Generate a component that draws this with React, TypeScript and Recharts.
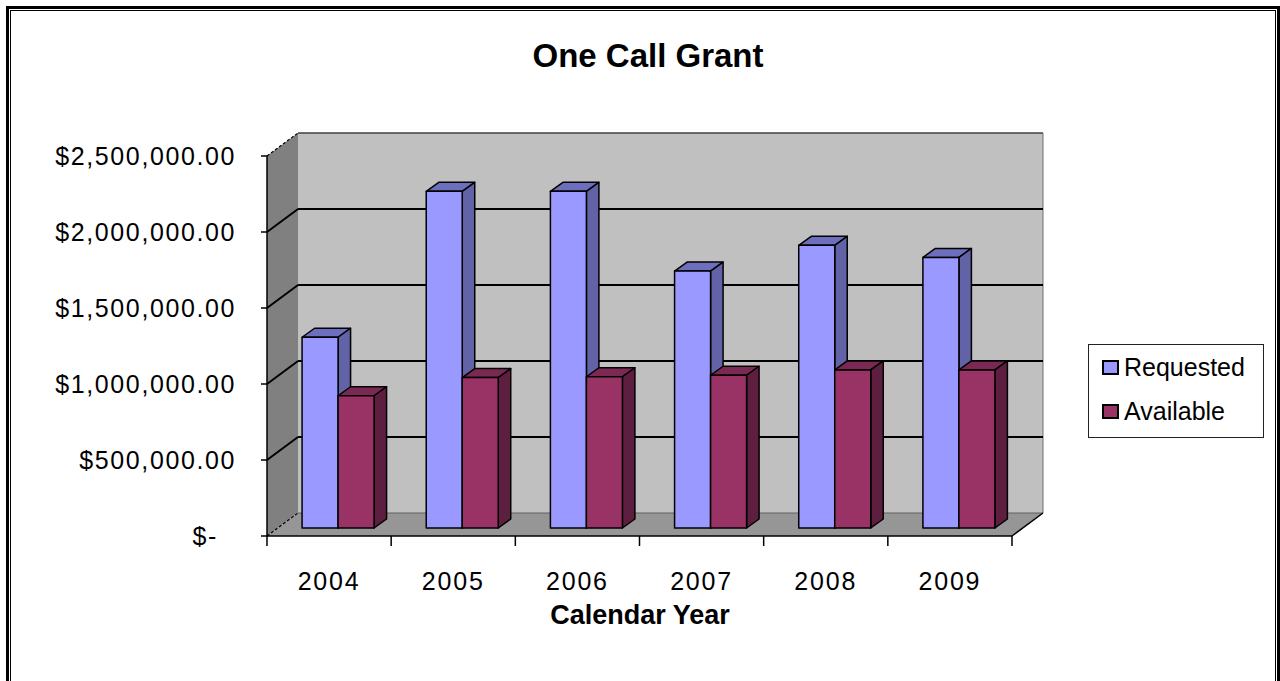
import { BarChart, Bar, XAxis, YAxis, CartesianGrid, Legend } from 'recharts'

const years = ['2004', '2005', '2006', '2007', '2008', '2009']
const requested = [1255000, 2215000, 2215000, 1690000, 1860000, 1780000]
const available = [870000, 990000, 995000, 1005000, 1040000, 1040000]
const yTicks = [0, 500000, 1000000, 1500000, 2000000, 2500000]
const seriesOrder = ['Requested', 'Available']

const data = years.map((year, i) => ({ year, requested: requested[i], available: available[i] }))

const FONT = '"Liberation Sans", Arial, sans-serif'
// plot area = front plane of the bars
const PLOT_LEFT = 276
const PLOT_RIGHT = 1021
const BAND = (PLOT_RIGHT - PLOT_LEFT) / years.length
// 3D offsets relative to the bars' front plane
const FRONT = { dx: -9, dy: 8 }
const BACK = { dx: 22, dy: -15 }
const DEPTH = { dx: 12.5, dy: 9 }

const fmtMoney = (v: number) =>
  v === 0 ? '$-' : '$' + v.toLocaleString('en-US', { minimumFractionDigits: 2, maximumFractionDigits: 2 })

const shade = {
  requested: { front: '#9999FF', top: '#6E6EBE', side: '#6262A6' },
  available: { front: '#993366', top: '#7A2952', side: '#5E1E40' },
}

const makeBar = (c: { front: string; top: string; side: string }) => (p: any) => {
  const { x, y, width: w, height: h } = p
  if (h == null || w == null) return <g />
  const { dx, dy } = DEPTH
  return (
    <g stroke="#000" strokeWidth={1.5} strokeLinejoin="round">
      <polygon points={`${x},${y} ${x + dx},${y - dy} ${x + w + dx},${y - dy} ${x + w},${y}`} fill={c.top} />
      <polygon points={`${x + w},${y} ${x + w + dx},${y - dy} ${x + w + dx},${y + h - dy} ${x + w},${y + h}`} fill={c.side} />
      <rect x={x} y={y} width={w} height={h} fill={c.front} />
    </g>
  )
}

// walls + floor, drawn once under everything
const walls = (p: any) => {
  if (p.index !== 0) return <g key={p.index} />
  const { x, y, width: w, height: h } = p
  const b = y + h
  const fx = x + FRONT.dx, bx = x + BACK.dx
  return (
    <g key="walls">
      <rect x={bx} y={y + BACK.dy} width={w} height={h} fill="#C0C0C0" />
      <polygon points={`${fx},${y + FRONT.dy} ${bx},${y + BACK.dy} ${bx},${b + BACK.dy} ${fx},${b + FRONT.dy}`} fill="#808080" />
      <polygon points={`${fx},${b + FRONT.dy} ${bx},${b + BACK.dy} ${bx + w},${b + BACK.dy} ${fx + w},${b + FRONT.dy}`} fill="#969696" />
      <line x1={bx} x2={bx + w} y1={y + BACK.dy} y2={y + BACK.dy} stroke="#404040" strokeWidth={1.5} />
      <line x1={bx + w} x2={bx + w} y1={y + BACK.dy} y2={b + BACK.dy} stroke="#707070" strokeWidth={1} />
      <line x1={bx} x2={bx + w} y1={b + BACK.dy} y2={b + BACK.dy} stroke="#606060" strokeWidth={1} />
      <line x1={fx + w} x2={bx + w} y1={b + FRONT.dy} y2={b + BACK.dy} stroke="#000" strokeWidth={1.5} />
      <line x1={fx} x2={fx + w} y1={b + FRONT.dy} y2={b + FRONT.dy} stroke="#000" strokeWidth={1.5} />
      <line x1={fx} x2={fx} y1={y + FRONT.dy} y2={b + FRONT.dy} stroke="#000" strokeWidth={1.5} />
    </g>
  )
}

const gridLine = (p: any) => {
  const { x, y, width: w, height: h, y1, index } = p
  const edge = Math.abs(y1 - y) < 0.5 || Math.abs(y1 - (y + h)) < 0.5
  return (
    <g key={`gl-${index}`}>
      {!edge && <line x1={x + BACK.dx} x2={x + w + BACK.dx} y1={y1 + BACK.dy} y2={y1 + BACK.dy} stroke="#000" strokeWidth={2} />}
      <line x1={x + FRONT.dx} y1={y1 + FRONT.dy} x2={x + BACK.dx} y2={y1 + BACK.dy}
        stroke="#000" strokeWidth={edge ? 1.2 : 2} strokeDasharray={edge ? '3 2' : undefined} />
    </g>
  )
}

const YTick = ({ y, payload }: any) => {
  const fy = y + FRONT.dy
  const fx = PLOT_LEFT + FRONT.dx
  return (
    <g>
      <line x1={fx - 6} x2={fx} y1={fy} y2={fy} stroke="#000" strokeWidth={1.5} />
      <text x={payload.value === 0 ? 218 : 236} y={fy + 9} textAnchor="end" fontFamily={FONT}
        fontSize={25} letterSpacing={1.6} fill="#000">{fmtMoney(payload.value)}</text>
    </g>
  )
}

const XTick = ({ x, payload, index }: any) => {
  const cx = x + FRONT.dx
  const y0 = 528 + FRONT.dy
  const last = payload.value === years[years.length - 1]
  return (
    <g>
      <line x1={cx - BAND / 2} x2={cx - BAND / 2} y1={y0} y2={y0 + 10} stroke="#000" strokeWidth={1.5} />
      {last && <line x1={cx + BAND / 2} x2={cx + BAND / 2} y1={y0} y2={y0 + 10} stroke="#000" strokeWidth={1.5} />}
      <text key={index} x={cx} y={590} textAnchor="middle" fontFamily={FONT} fontSize={25} letterSpacing={1.8} fill="#000">
        {payload.value}
      </text>
    </g>
  )
}

const renderLegend = ({ payload }: any) => {
  const items = [...(payload || [])].sort((a: any, b: any) => seriesOrder.indexOf(a.value) - seriesOrder.indexOf(b.value))
  return (
    <div style={{ width: 176, height: 94, border: '1px solid #222', background: '#fff', boxSizing: 'border-box' }}>
      {items.map((e: any) => (
        <div key={e.value} style={{ display: 'flex', alignItems: 'center', height: 44, fontFamily: FONT, fontSize: 25, color: '#000' }}>
          <span style={{ display: 'inline-block', width: 17, height: 15, marginLeft: 13, marginRight: 5, border: '2px solid #000', boxSizing: 'border-box', background: e.color }} />
          <span>{e.value}</span>
        </div>
      ))}
    </div>
  )
}

export default function App() {
  return (
    <div style={{ position: 'absolute', left: 0, top: 0, width: 1280, height: 681, overflow: 'hidden', background: '#fff' }}>
      <div style={{ position: 'absolute', left: 6, top: 6, width: 1274, height: 720, border: '3px solid #000', boxSizing: 'border-box' }} />
      <div style={{ position: 'absolute', left: 10, top: 10, width: 1266, height: 720, border: '1px solid #000', boxSizing: 'border-box' }} />
      <div style={{ position: 'absolute', left: 0, top: 0 }}>
        <BarChart width={1280} height={681} data={data} barGap={0} barCategoryGap="21%"
          margin={{ top: 148, right: 1280 - PLOT_RIGHT, bottom: 93, left: PLOT_LEFT - 60 }}>
          <CartesianGrid vertical={false} horizontal={walls} />
          <CartesianGrid vertical={false} horizontal={gridLine} />
          <XAxis dataKey="year" height={60} axisLine={false} tickLine={false} tick={<XTick />} interval={0} />
          <YAxis width={60} domain={[0, 2500000]} ticks={yTicks} axisLine={false} tickLine={false} tick={<YTick />} />
          <Legend layout="vertical" align="center" verticalAlign="middle" content={renderLegend}
            wrapperStyle={{ left: 1088, top: 344, width: 176, height: 94 }} />
          <Bar dataKey="requested" name="Requested" fill="#9999FF" shape={makeBar(shade.requested)} isAnimationActive={false} />
          <Bar dataKey="available" name="Available" fill="#993366" shape={makeBar(shade.available)} isAnimationActive={false} />
        </BarChart>
      </div>
      <svg width={1280} height={681} style={{ position: 'absolute', left: 0, top: 0, pointerEvents: 'none' }}>
        <text x={648} y={67} textAnchor="middle" fontFamily={FONT} fontSize={33} fontWeight="bold" fill="#000">One Call Grant</text>
        <text x={640} y={624} textAnchor="middle" fontFamily={FONT} fontSize={27} fontWeight="bold" fill="#000">Calendar Year</text>
      </svg>
    </div>
  )
}
